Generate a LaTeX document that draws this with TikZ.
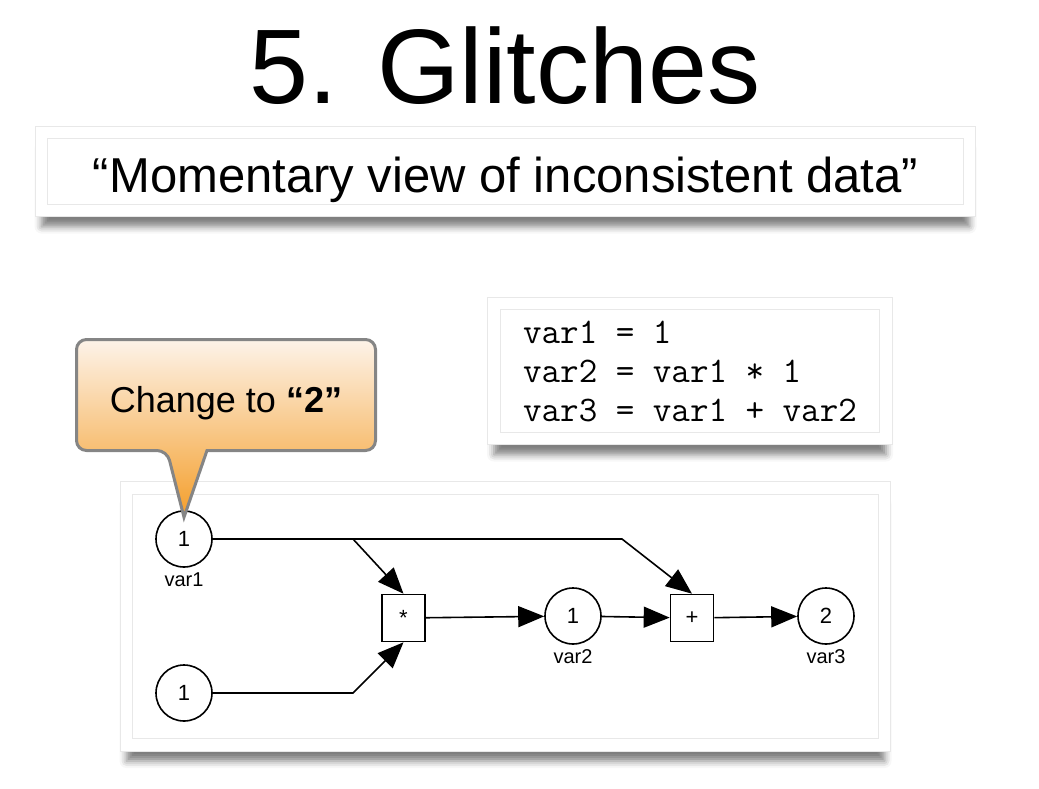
\documentclass[tikz,border=0pt]{standalone}
\usepackage{fontspec}
\setmainfont{Liberation Sans}
\usetikzlibrary{arrows.meta,positioning,shadows.blur}
\definecolor{peach}{RGB}{253,243,233}
\definecolor{tangerine}{RGB}{244,158,42}

\begin{document}
\begin{tikzpicture}[x=1pt,y=-1pt,
 every node/.style={align=center},
 paper/.style={draw=black!9,line width=1.2pt,double=white,double distance=11.5pt,
   fill=white,inner sep=0pt,
   blur shadow={shadow xshift=0pt,shadow yshift=-16pt,shadow blur radius=7pt,
     shadow opacity=50}},
 var/.style={draw,circle,line width=1.6pt,minimum size=56pt,inner sep=0pt,
   font=\fontsize{22}{24}\selectfont},
 op/.style={draw,rectangle,line width=1.6pt,minimum width=43pt,minimum height=47pt,
   inner sep=0pt,font=\fontsize{22}{24}\selectfont},
 lbl/.style={font=\fontsize{20}{22}\selectfont,inner sep=2pt,label distance=3pt},
 flow/.style={line width=1.6pt,-{Triangle[length=26pt,width=21pt]}},
 bubble/.style={draw=black!48,line width=3pt,top color=peach,bottom color=tangerine}]
\useasboundingbox (0,0) rectangle (1039,788);

\node[font=\fontsize{106}{120}\selectfont,anchor=base] (title) at (505,103) {5. Glitches};
\node[paper,minimum width=928pt,minimum height=78pt,font=\fontsize{49}{56}\selectfont,
  text height=44pt,text depth=2pt] (quote) at (505.5,171.5)
  {“Momentary view of inconsistent data”};
\node[paper,minimum width=392pt,minimum height=135pt,align=left,
  font=\fontsize{36}{39}\ttfamily] (code) at (690,371)
  {var1 = 1\\var2 = var1 * 1\\var3 = var1 + var2};
\node[paper,minimum width=758pt,minimum height=257pt] (canvas) at (505.5,616.5) {};

% dataflow graph
\node[var,label={[lbl]below:var1}] (var1) at (184,539) {1};
\node[var] (one) at (184,693) {1};
\node[op] (times) at (403.5,618) {*};
\node[var,label={[lbl]below:var2}] (var2) at (573,616) {1};
\node[op] (plus) at (692,618) {+};
\node[var,label={[lbl]below:var3}] (var3) at (826,616) {2};
\coordinate (split) at (353,539);
\coordinate (bend) at (622,539);
\coordinate (join) at (353,693);
\draw[flow] (var1) -- (split) -- (bend) -- (plus.north);
\draw[flow] (split) -- (times.north);
\draw[flow] (one) -- (join) -- (times.south);
\draw[flow] (times) -- (var2);
\draw[flow] (var2) -- (plus);
\draw[flow] (plus) -- (var3);

% callout
\draw[bubble] (207,450.5) [rounded corners=10pt] -- (375.5,450.5) -- (375.5,339.5)
  -- (76.5,339.5) -- (76.5,450.5) -- (167,450.5) [sharp corners]
  -- ([yshift=-7pt]var1.north) -- cycle;
\node[font=\fontsize{36}{40}\selectfont,anchor=base] (change) at (226,412)
  {Change to \textbf{“2”}};
\end{tikzpicture}
\end{document}
